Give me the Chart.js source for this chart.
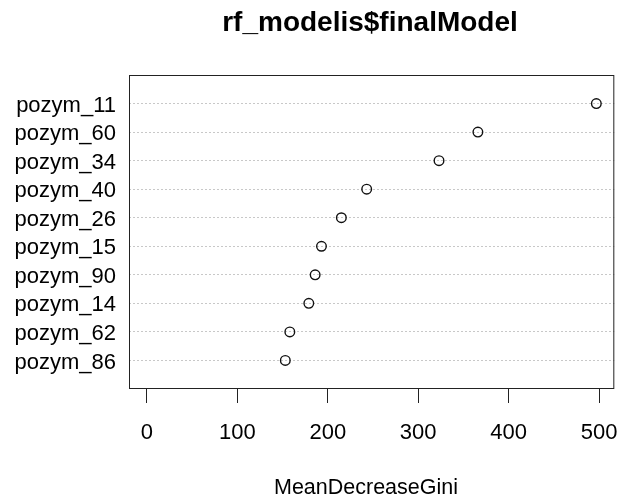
<!DOCTYPE html>
<html>
<head>
<meta charset="utf-8">
<script src="https://cdn.jsdelivr.net/npm/chart.js@4"></script>
<style>
  html, body { margin: 0; padding: 0; background: #fff; }
  #wrap { width: 635px; height: 501px; }
</style>
</head>
<body>
<div id="wrap"><canvas id="chart" width="635" height="501"></canvas></div>
<script>
// Variable importance, top to bottom as drawn
const varNames = ['pozym_11', 'pozym_60', 'pozym_34', 'pozym_40', 'pozym_26',
                  'pozym_15', 'pozym_90', 'pozym_14', 'pozym_62', 'pozym_86'];
const giniValues = [497, 366, 323, 243, 215, 193, 186, 179, 158, 153];
const xTicks = [0, 100, 200, 300, 400, 500];

const mainTitle = 'rf_modelis$finalModel';
const xLabel = 'MeanDecreaseGini';

// dotchart puts the first row at the top: y = n ... 1
const n = varNames.length;
const points = giniValues.map((v, i) => ({ x: v, y: n - i }));
const rowLabel = {};
varNames.forEach((name, i) => { rowLabel[n - i] = name; });

// R style xlim: range extended by 4%
const xMin = 0, xMax = Math.max(...giniValues);
const pad = (xMax - xMin) * 0.04;

const font = 'Liberation Sans, Arial, sans-serif';

// box around the plot region, plus title and axis label
const rDecor = {
  id: 'rDecor',
  afterDraw(chart) {
    const { ctx, chartArea: a } = chart;
    ctx.save();
    ctx.strokeStyle = '#222';
    ctx.lineWidth = 1;
    ctx.strokeRect(a.left + 0.5, a.top + 0.5, a.right - a.left - 1, a.bottom - a.top - 1);

    ctx.fillStyle = '#000';
    ctx.textAlign = 'center';
    ctx.textBaseline = 'alphabetic';
    ctx.font = 'bold 28px ' + font;
    ctx.fillText(mainTitle, 370, 31);
    ctx.font = '21.5px ' + font;
    ctx.fillText(xLabel, 366, 494);
    ctx.restore();
  }
};

const ctx = document.getElementById('chart').getContext('2d');
new Chart(ctx, {
  type: 'scatter',
  data: {
    datasets: [{
      data: points,
      pointStyle: 'circle',
      pointRadius: 4.8,
      pointHoverRadius: 4.8,
      borderColor: '#111',
      borderWidth: 1.4,
      backgroundColor: 'rgba(0,0,0,0)'
    }]
  },
  options: {
    responsive: false,
    animation: false,
    events: [],
    layout: { padding: { top: 75, right: 19, bottom: 0, left: 0 } },
    plugins: {
      legend: { display: false },
      title: { display: false },
      tooltip: { enabled: false }
    },
    scales: {
      x: {
        type: 'linear',
        min: xMin - pad,
        max: xMax + pad,
        afterBuildTicks: s => { s.ticks = xTicks.map(v => ({ value: v })); },
        afterFit: s => { s.height = 112; },
        grid: {
          display: true,
          drawOnChartArea: false,
          drawTicks: true,
          tickLength: 14,
          tickColor: '#222',
          tickWidth: 1
        },
        border: { display: false },
        ticks: {
          autoSkip: false,
          maxRotation: 0,
          padding: 17,
          color: '#000',
          font: { family: font, size: 22 }
        }
      },
      y: {
        type: 'linear',
        min: 0,
        max: n + 1,
        afterBuildTicks: s => { s.ticks = varNames.map((_, i) => ({ value: n - i })); },
        afterFit: s => { s.width = 129; },
        grid: {
          display: true,
          drawTicks: false,
          color: '#c8c8c8',
          lineWidth: 1
        },
        border: { display: false, dash: [2, 2] },
        ticks: {
          autoSkip: false,
          padding: 13,
          labelOffset: 2,
          color: '#000',
          font: { family: font, size: 22 },
          callback: v => rowLabel[v] || ''
        }
      }
    }
  },
  plugins: [rDecor]
});
</script>
</body>
</html>
